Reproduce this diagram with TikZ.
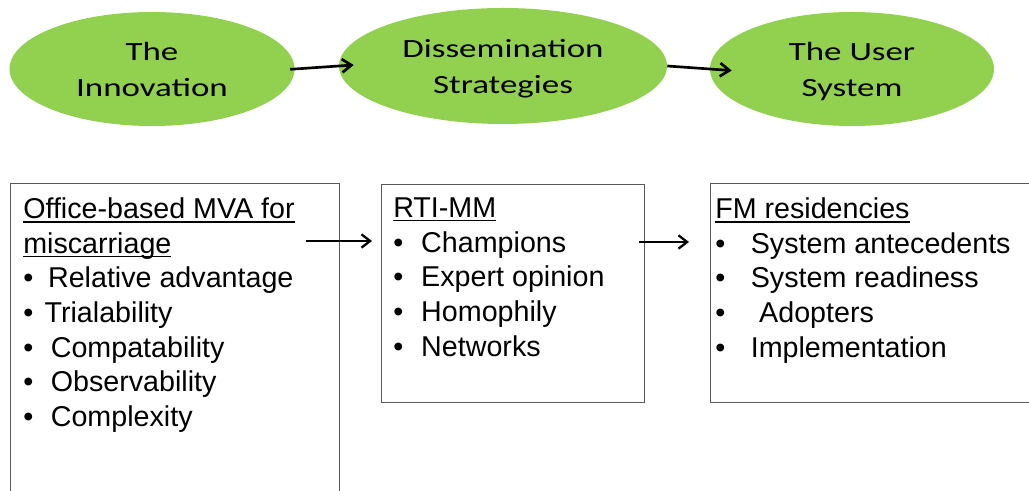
\documentclass[tikz,border=0pt]{standalone}
\usepackage{fontspec}
\setmainfont{Liberation Sans}
\newfontfamily\ovalfont[FakeStretch=1.33]{Carlito}
\usetikzlibrary{shapes.geometric,arrows.meta}
\definecolor{leafgreen}{HTML}{92D050}
\definecolor{boxgray}{HTML}{595959}
% underline that runs through descenders, bullet with a set gap
\newcommand{\uln}[1]{\setbox0\hbox{#1}\rlap{\rule[-3pt]{\wd0}{1.1pt}}\box0}
\newcommand{\itm}[2]{\makebox[#1][l]{\textbullet}#2}
\begin{document}
\begin{tikzpicture}[x=0.75pt,y=-0.75pt,
  oval/.style={ellipse,fill=leafgreen,inner sep=0pt,text depth=0pt,align=center,
    font=\ovalfont\fontsize{19.7}{27}\selectfont},
  frame/.style={draw=boxgray,line width=1pt,anchor=north west,inner sep=0pt},
  list/.style={anchor=north west,inner sep=0pt,align=left,font=\fontsize{21.5}{26}\selectfont},
  flow/.style={-{Straight Barb[length=7pt,width=10pt]},line width=2pt},
  link/.style={-{Straight Barb[length=6.5pt,width=10pt]},line width=1.7pt}]
  \useasboundingbox (0,0) rectangle (1029,491);
  % top row
  \node[oval,minimum width=213.75pt,minimum height=85.5pt] (inno) at (152,69) {The\\Innovation};
  \node[oval,minimum width=246pt,minimum height=87pt] (diss) at (503,66) {Dissemination\\Strategies};
  \node[oval,minimum width=213pt,minimum height=85.5pt] (user) at (852,69) {The User\\System};
  \draw[flow,shorten <=-3.4pt,shorten >=-11.25pt] (inno.east) -- (diss.west);
  \draw[flow,shorten >=-16.5pt] (diss.east) -- (user.west);
  % boxes
  \node[frame,minimum width=246.75pt,minimum height=240pt] (innobox) at (10,183) {};
  \node[frame,minimum width=197.25pt,minimum height=163.5pt] (dissbox) at (381,184) {};
  \node[frame,minimum width=247.5pt,minimum height=164.25pt] (userbox) at (710,183) {};
  \node[list] (innotext) at (23,197.5) {\uln{Office-based MVA for}\\\uln{miscarriage}\\
    \itm{18.6pt}{Relative advantage}\\\itm{16pt}{Trialability}\\
    \itm{20.7pt}{Compatability}\\\itm{20.7pt}{Observability}\\\itm{20.7pt}{Complexity}};
  \node[list] (disstext) at (393,197.5) {\uln{RTI-MM}\\\itm{21pt}{Champions}\\
    \itm{21pt}{Expert opinion}\\\itm{21pt}{Homophily}\\\itm{21pt}{Networks}};
  \node[list] (usertext) at (715,197.5) {\uln{FM residencies}\\\itm{26.7pt}{System antecedents}\\
    \itm{26.7pt}{System readiness}\\\itm{33pt}{Adopters}\\\itm{26.7pt}{Implementation}};
  \draw[link] ([shift={(-34,58)}]innobox.north east) -- ([shift={(-9,57)}]dissbox.north west);
  \draw[link] ([shift={(-6,58)}]dissbox.north east) -- ([shift={(-21,59)}]userbox.north west);
\end{tikzpicture}
\end{document}
